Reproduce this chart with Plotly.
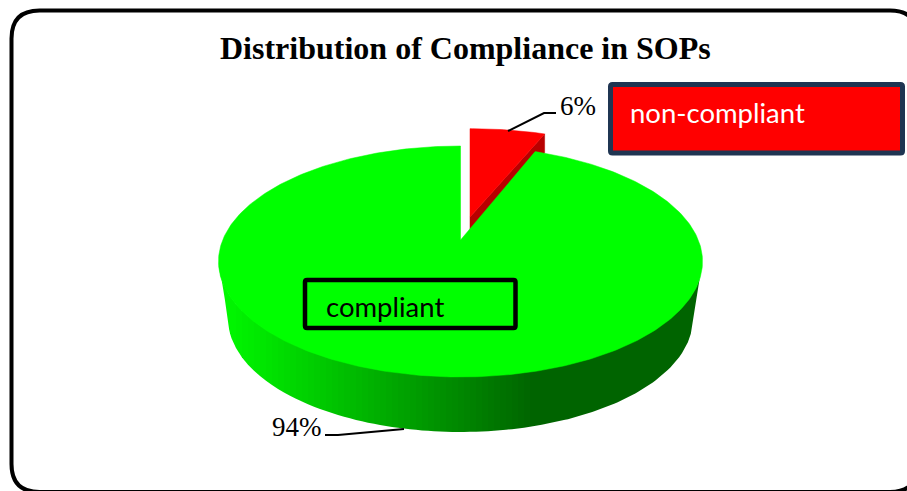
import numpy as np
import plotly.graph_objects as go

# --- data ---
categories = ["non-compliant", "compliant"]
percent_values = [6, 94]
title_text = "Distribution of Compliance in SOPs"
pct_labels = ["6%", "94%"]

W, H = 907, 491
K = -0.186
R = 237.8
A = 111.5


def project(theta, cx, cy, sx=1.0, sy=1.0):
    """Perspective projection of a unit-circle point; theta clockwise from 12 o'clock."""
    s = -np.cos(theta)
    c = np.sin(theta)
    d = 1 + K * s
    return cx + sx * R * c / d, cy + sy * A * s / d


def poly(x, y, color, name, lw=0.5):
    return go.Scatter(x=np.r_[x, x[0]], y=np.r_[y, y[0]], mode="lines", fill="toself",
                      fillcolor=color, line=dict(color=color, width=lw),
                      hoverinfo="skip", showlegend=False, name=name)


def round_rect(L, T, Rt, B, r):
    return (f"M {L + r} {T} L {Rt - r} {T} Q {Rt} {T} {Rt} {T + r} L {Rt} {B - r} Q {Rt} {B} {Rt - r} {B} "
            f"L {L + r} {B} Q {L} {B} {L} {B - r} L {L} {T + r} Q {L} {T} {L + r} {T} Z")


fig = go.Figure()
split = 2 * np.pi * percent_values[0] / sum(percent_values)

# red slice (exploded): side then top
red_cx, red_cy = 470, 217
rx_end, ry_end = project(split, red_cx, red_cy, 1.0, 0.94)
fig.add_trace(poly(np.array([red_cx, rx_end, rx_end, red_cx]),
                   np.array([red_cy, ry_end, ry_end + 19, red_cy + 14]), "#b80000", categories[0]))
t = np.linspace(0, split, 30)
x, y = project(t, red_cx, red_cy, 1.0, 0.94)
fig.add_trace(poly(np.r_[red_cx, x], np.r_[red_cy, y], "#ff0000", categories[0]))

# green side: silhouette between top and bottom perspective ellipses, in vertical strips
CX, CY = 460.5, 240
BCY, BSX, BSY = 298, 0.96, 0.978
th = np.linspace(np.arccos(K), 2 * np.pi - np.arccos(K), 600)
tx, ty = project(th, CX, CY)
bx, by = project(th, CX, BCY, BSX, BSY)
ot, ob = np.argsort(tx), np.argsort(bx)
edge_x = np.r_[tx.min(), bx[ob], tx.max()]
edge_y = np.r_[ty[ot][0], by[ob], ty[ot][-1]]
edges = np.r_[tx.min(), np.arange(224, 536, 6), tx.max()]
for i in range(len(edges) - 1):
    x0, x1 = edges[i], edges[i + 1]
    xs = np.linspace(x0, x1, 60 if i == len(edges) - 2 else 8)
    y_top = np.interp(xs, tx[ot], ty[ot]) - 1
    y_bot = np.interp(xs, edge_x, edge_y)
    f = min(1.0, (x0 - 218) / 312)
    col = f"rgb(0,{int(round(250 - 150 * f))},0)"
    fig.add_trace(poly(np.r_[xs, xs[::-1]], np.r_[y_top, y_bot[::-1]], col, categories[1], lw=0))

# green top face
t = np.linspace(split, 2 * np.pi, 400)
x, y = project(t, CX, CY)
fig.add_trace(poly(np.r_[CX, x], np.r_[CY, y], "#00ff00", categories[1]))

# leader lines and labels
fig.add_trace(go.Scatter(x=[508, 544, 556], y=[131, 113, 113], mode="lines",
                         line=dict(color="black", width=2), hoverinfo="skip", showlegend=False))
fig.add_trace(go.Scatter(x=[325, 338, 404], y=[435, 435, 429], mode="lines",
                         line=dict(color="black", width=2), hoverinfo="skip", showlegend=False))
serif = "Liberation Serif"
sans = "Lato"
annots = [
    dict(x=465.5, y=48, text=f"<b>{title_text}</b>", font=dict(family=serif, size=32, color="black")),
    dict(x=577.5, y=106, text=pct_labels[0], font=dict(family=serif, size=27, color="black")),
    dict(x=297, y=427, text=pct_labels[1], font=dict(family=serif, size=27, color="black")),
    dict(x=717, y=112, text=categories[0], font=dict(family=sans, size=27.5, color="white")),
    dict(x=384.5, y=306, text=categories[1], font=dict(family=sans, size=27.5, color="black")),
]
for a in annots:
    a.update(xref="x", yref="y", showarrow=False, xanchor="center", yanchor="middle")

shapes = [
    dict(type="path", path=round_rect(11.5, 10.5, 918, 492, 28), xref="x", yref="y",
         line=dict(color="black", width=4), fillcolor="rgba(0,0,0,0)"),
    dict(type="path", path=round_rect(610.5, 84.5, 902.5, 153, 2), xref="x", yref="y",
         line=dict(color="#1f3552", width=5), fillcolor="#ff0000"),
    dict(type="path", path=round_rect(305, 280, 515.5, 328, 2), xref="x", yref="y",
         line=dict(color="black", width=4.5), fillcolor="#00ff00"),
]

fig.update_layout(
    width=W, height=H, autosize=False,
    margin=dict(l=0, r=0, t=0, b=0),
    paper_bgcolor="white", plot_bgcolor="white",
    xaxis=dict(range=[0, W], visible=False, fixedrange=True),
    yaxis=dict(range=[H, 0], visible=False, fixedrange=True),
    showlegend=False, annotations=annots, shapes=shapes,
)
fig.write_html("out.html", config=dict(displayModeBar=False),
               post_script="document.body.style.margin='0';document.body.style.overflow='hidden';")
